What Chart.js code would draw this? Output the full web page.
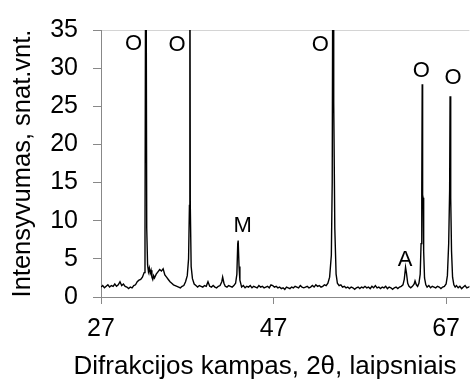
<!DOCTYPE html>
<html>
<head>
<meta charset="utf-8">
<script src="https://cdn.jsdelivr.net/npm/chart.js@4.4.0/dist/chart.umd.min.js"></script>
<style>
  body { margin: 0; background: #fff; }
  #wrap { width: 470px; height: 383px; }
</style>
</head>
<body>
<div id="wrap"><canvas id="xrdChart" width="470" height="383"></canvas></div>
<script>
// 2theta (deg) and intensity
const twoTheta = [
  27.0, 27.2, 27.4, 27.6, 27.8, 28.0, 28.2, 28.4, 28.6, 28.8, 29.0, 29.2, 29.4, 29.6, 29.8,
  30.0, 30.2, 30.4, 30.6, 30.8, 31.0, 31.2, 31.4, 31.6, 31.8, 32.0, 32.1, 32.2, 32.3, 32.4,
  32.5, 32.6, 32.7, 32.8, 32.9, 33.0, 33.1, 33.2, 33.4, 33.6, 33.8, 34.0, 34.2, 34.4, 34.6,
  34.8, 35.0, 35.2, 35.4, 35.6, 35.8, 36.0, 36.2, 36.4, 36.6, 36.8, 37.0, 37.15, 37.25, 37.3,
  37.35, 37.45, 37.6, 37.8, 38.0, 38.2, 38.4, 38.6, 38.8, 39.0, 39.2, 39.4, 39.6, 39.8, 40.0,
  40.2, 40.4, 40.6, 40.8, 41.0, 41.1, 41.25, 41.4, 41.6, 41.8, 42.0, 42.2, 42.4, 42.6, 42.75,
  42.85, 42.9, 43.0, 43.1, 43.3, 43.5, 43.7, 43.9, 44.1, 44.3, 44.5, 44.7, 44.9, 45.1, 45.3,
  45.5, 45.7, 45.9, 46.1, 46.3, 46.5, 46.7, 46.9, 47.1, 47.3, 47.5, 47.7, 47.9, 48.1, 48.3,
  48.5, 48.7, 48.9, 49.1, 49.3, 49.5, 49.7, 49.9, 50.1, 50.3, 50.5, 50.7, 50.9, 51.1, 51.3,
  51.5, 51.7, 51.9, 52.1, 52.3, 52.5, 52.7, 52.9, 53.1, 53.3, 53.5, 53.7, 53.8, 53.9, 53.95,
  54.0, 54.1, 54.25, 54.4, 54.6, 54.8, 55.0, 55.2, 55.4, 55.6, 55.8, 56.0, 56.2, 56.4, 56.6,
  56.8, 57.0, 57.2, 57.4, 57.6, 57.8, 58.0, 58.2, 58.4, 58.6, 58.8, 59.0, 59.2, 59.4, 59.6,
  59.8, 60.0, 60.2, 60.4, 60.6, 60.8, 61.0, 61.2, 61.4, 61.6, 61.8, 62.0, 62.15, 62.3, 62.4,
  62.55, 62.7, 62.9, 63.1, 63.3, 63.4, 63.55, 63.7, 63.85, 64.0, 64.1, 64.18, 64.23, 64.28, 64.33,
  64.4, 64.5, 64.65, 64.8, 65.0, 65.2, 65.4, 65.6, 65.8, 66.0, 66.2, 66.4, 66.6, 66.8, 67.0,
  67.15, 67.3, 67.41, 67.46, 67.51, 67.56, 67.63, 67.75, 67.9, 68.05, 68.2, 68.4, 68.6, 68.8, 69.0,
  69.2, 69.4, 69.6, 69.8
];
const intensity = [
  1.3, 1.5, 1.2, 1.4, 1.6, 1.3, 1.5, 1.4, 1.7, 1.4, 1.6, 2.0, 1.5, 1.7, 1.4,
  1.3, 1.1, 1.3, 1.2, 1.5, 1.6, 2.0, 2.2, 2.3, 2.6, 3.2, 8.0, 60, 9.0, 4.2,
  3.3, 3.8, 3.1, 3.5, 2.6, 2.3, 2.8, 2.5, 3.0, 3.3, 3.6, 3.4, 3.7, 2.9, 2.6,
  2.3, 2.0, 1.8, 1.6, 1.5, 1.4, 1.3, 1.2, 1.4, 1.5, 2.0, 2.8, 5.0, 12, 55,
  12, 4.0, 2.4, 1.7, 1.5, 1.3, 1.5, 1.4, 1.3, 1.5, 1.4, 2.0, 1.4, 1.3, 1.5,
  1.3, 1.2, 1.4, 1.5, 2.0, 2.6, 1.8, 1.4, 1.3, 1.5, 1.4, 1.3, 1.5, 1.8, 3.0,
  7.0, 7.4, 4.0, 2.2, 1.3, 1.5, 1.2, 1.4, 1.3, 1.5, 1.2, 1.4, 1.3, 1.2, 1.5,
  1.3, 1.4, 1.2, 1.3, 1.4, 1.2, 1.6, 1.5, 1.3, 1.4, 1.2, 1.3, 1.1, 1.2, 1.0,
  1.3, 1.2, 1.1, 1.3, 1.2, 1.4, 1.3, 1.2, 1.5, 1.3, 1.2, 1.3, 1.4, 1.2, 1.3,
  1.5, 1.3, 1.6, 1.4, 1.5, 1.3, 1.4, 1.6, 1.5, 1.8, 2.6, 5.5, 15, 60, 26,
  25.5, 9.0, 3.0, 1.8, 1.5, 1.6, 1.3, 1.4, 1.2, 1.3, 1.1, 1.3, 1.2, 1.0, 1.2,
  1.3, 1.1, 1.3, 1.2, 1.4, 1.2, 1.3, 1.1, 1.4, 1.2, 1.5, 1.2, 1.3, 1.1, 1.3,
  1.2, 1.4, 1.1, 1.3, 1.2, 1.0, 1.2, 1.3, 1.1, 1.3, 1.4, 1.6, 2.3, 3.9, 3.2,
  1.8, 1.4, 1.2, 1.4, 1.7, 2.1, 1.6, 1.4, 1.8, 3.0, 7.0, 14, 27.9, 13.4, 13.0,
  6.0, 2.5, 1.6, 1.3, 1.5, 1.2, 1.4, 1.3, 1.2, 1.4, 1.3, 1.1, 1.3, 1.4, 1.7,
  2.8, 7.0, 14, 26.3, 13.4, 13.0, 6.0, 2.6, 1.6, 1.3, 1.5, 1.2, 1.4, 1.1, 1.3,
  1.5, 1.2, 1.3, 1.4
];

const xTicks = [27, 47, 67];

// phase marks above the peaks
const peakNames = ["O", "O", "M", "O", "A", "O", "O"];
const peakNameX = [30.78, 35.82, 43.42, 52.43, 62.26, 64.14, 67.81];
const peakNameY = [33.2, 33.0, 9.3, 33.0, 4.9, 29.6, 28.7];

const xTitle = "Difrakcijos kampas, 2\u03B8, laipsniais";
const yTitle = "Intensyvumas, snat.vnt.";

const FONT = "'Liberation Sans', Arial, sans-serif";

const peakLabels = {
  id: "peakLabels",
  afterDraw(chart) {
    const { ctx, scales: { x, y } } = chart;
    ctx.save();
    ctx.fillStyle = "#000";
    ctx.textAlign = "center";
    ctx.textBaseline = "middle";
    ctx.font = "22px " + FONT;
    peakNames.forEach((name, i) => {
      ctx.fillText(name, x.getPixelForValue(peakNameX[i]), y.getPixelForValue(peakNameY[i]));
    });
    // x axis title sits centred on the whole figure, not the plot
    ctx.font = "26px " + FONT;
    ctx.fillText(xTitle, 265, 367);
    ctx.restore();
  }
};

const points = twoTheta.map((t, i) => ({ x: t, y: intensity[i] }));

new Chart(document.getElementById("xrdChart"), {
  type: "line",
  data: {
    datasets: [{
      data: points,
      borderColor: "#000",
      borderWidth: 1.4,
      pointRadius: 0,
      tension: 0,
      fill: false
    }]
  },
  options: {
    responsive: false,
    animation: false,
    layout: { padding: { top: 26, right: 0, left: 0, bottom: 0 } },
    plugins: { legend: { display: false }, tooltip: { enabled: false } },
    scales: {
      x: {
        type: "linear",
        min: 27,
        max: 69.7,
        afterBuildTicks: (axis) => { axis.ticks = xTicks.map(v => ({ value: v })); },
        afterFit: (axis) => { axis.height = 86; },
        border: { color: "#888", width: 1 },
        grid: { drawOnChartArea: false, tickLength: 7, tickColor: "#888" },
        ticks: {
          color: "#000",
          padding: 10,
          maxRotation: 0,
          autoSkip: false,
          font: { family: FONT, size: 25 }
        }
      },
      y: {
        min: 0,
        max: 35,
        afterFit: (axis) => { axis.width = 101; },
        border: { color: "#888", width: 1 },
        grid: {
          color: (c) => (c.tick && c.tick.value === 35 ? "#d4d4d4" : "rgba(0,0,0,0)"),
          tickLength: 8,
          tickColor: "#888"
        },
        ticks: {
          stepSize: 5,
          color: "#000",
          padding: 15,
          font: { family: FONT, size: 25 }
        },
        title: {
          display: true,
          text: yTitle,
          color: "#000",
          padding: { top: 8, bottom: 0 },
          font: { family: FONT, size: 25.5 }
        }
      }
    }
  },
  plugins: [peakLabels]
});
</script>
</body>
</html>
